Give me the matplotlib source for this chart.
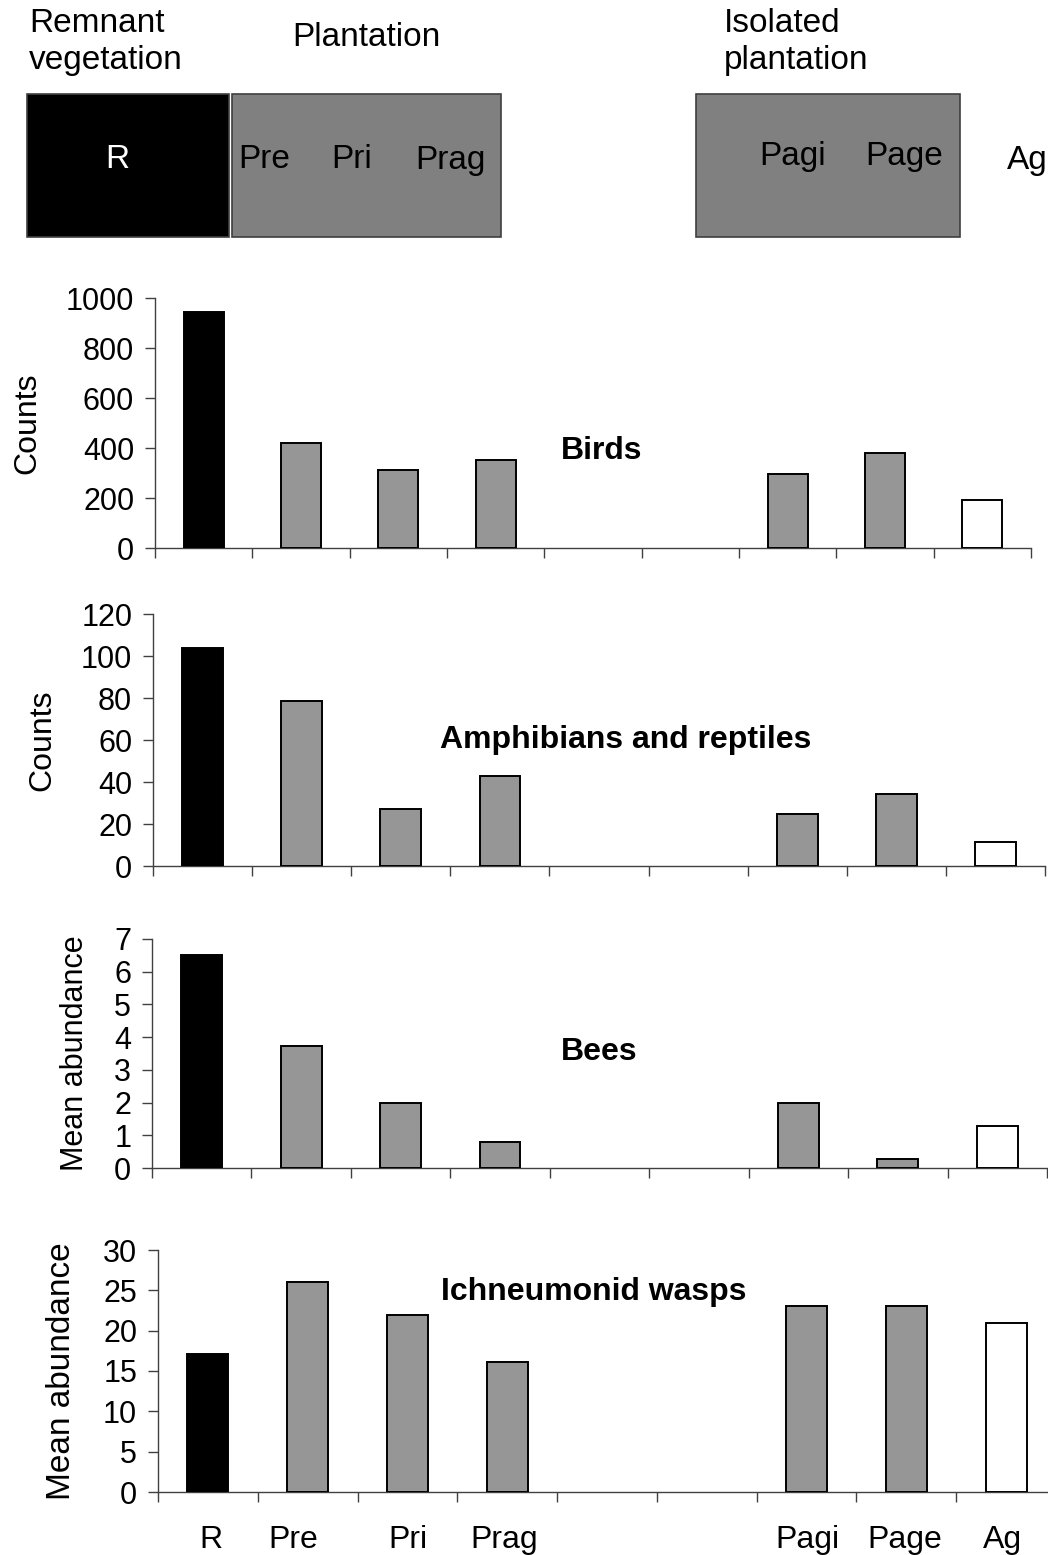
import matplotlib
matplotlib.use("Agg")
import matplotlib.pyplot as plt
import numpy as np

plt.rcParams['font.family'] = ['Liberation Sans', 'DejaVu Sans']

# data
sites = ["R", "Pre", "Pri", "Prag", "", "", "Pagi", "Page", "Ag"]
groups = ["rem", "plant", "plant", "plant", None, None, "plant", "plant", "ag"]
birds = [944, 421, 311, 351, np.nan, np.nan, 296, 382, 191]
herps = [104, 78.5, 27, 43, np.nan, np.nan, 25, 34.5, 11.5]
bees = [6.5, 3.72, 2.0, 0.78, np.nan, np.nan, 2.0, 0.28, 1.28]
wasps = [17.1, 26.0, 22.0, 16.1, np.nan, np.nan, 23.0, 23.0, 21.0]

# small nudges of the bottom site labels (in category units), as in the original
label_shift = [0.03, -0.14, 0, -0.03, 0, 0, 0.01, -0.02, -0.04]

W, H = 1048, 1555
fig = plt.figure(figsize=(W / 100, H / 100), dpi=100)

fill = {"rem": "black", "plant": "#969696", "ag": "white", None: "white"}

def px_axes(l, t, r, b, **kw):
    # axes placed by pixel box (left, top, right, bottom) measured on the picture
    return fig.add_axes([l / W, 1 - b / H, (r - l) / W, (b - t) / H], **kw)

# ---- header with the habitat boxes ----
hd = px_axes(0, 0, W, 250)
hd.set_xlim(0, W)
hd.set_ylim(250, 0)
hd.axis("off")
hd.add_patch(plt.Rectangle((27, 94), 202, 143, fc="black", ec="#404040", lw=1.2))
hd.add_patch(plt.Rectangle((232, 94), 269, 143, fc="#808080", ec="#404040", lw=1.2))
hd.add_patch(plt.Rectangle((696, 94), 264, 143, fc="#808080", ec="#404040", lw=1.2))
hfs = 24
hd.text(29, 23, "Remnant", fontsize=hfs, va="center", ha="left")
hd.text(29, 61, "vegetation", fontsize=hfs, va="center", ha="left")
hd.text(366, 37, "Plantation", fontsize=hfs, va="center", ha="center")
hd.text(724, 23, "Isolated", fontsize=hfs, va="center", ha="left")
hd.text(724, 61, "plantation", fontsize=hfs, va="center", ha="left")
hd.text(117, 160, "R", fontsize=hfs, va="center", ha="center", color="white")
for x, s in zip([264, 352, 450], ["Pre", "Pri", "Prag"]):
    hd.text(x, 160, s, fontsize=hfs, va="center", ha="center")
for x, s in zip([793, 904], ["Pagi", "Page"]):
    hd.text(x, 157, s, fontsize=hfs, va="center", ha="center")
hd.text(1027, 160, "Ag", fontsize=hfs, va="center", ha="center")

# ---- bar panels ----
panels = [
    # values, ymax, step, ylabel, label fs, title, title pos, pixel box, ylabel x
    (birds, 1000, 200, "Counts", 23, "Birds", (561, 451), (155, 298, 1031, 548), 27),
    (herps, 120, 20, "Counts", 23, "Amphibians and reptiles", (440, 740), (153, 614, 1045, 866), 42),
    (bees, 7, 1, "Mean abundance", 22, "Bees", (561, 1052), (152, 939, 1047, 1168), 75),
    (wasps, 30, 5, "Mean abundance", 24, "Ichneumonid wasps", (441, 1292), (158, 1250, 1056, 1492), 62),
]

x = np.arange(len(sites))
for i, (vals, ymax, step, ylab, lfs, title, tpos, box, labx) in enumerate(panels):
    l, t, r, b = box
    ax = px_axes(l, t, r, b)
    ax.bar(x, vals, width=0.41, color=[fill[g] for g in groups],
           edgecolor="black", linewidth=1.4, zorder=3)
    ax.set_xlim(-0.5, len(sites) - 0.5)
    ax.set_ylim(0, ymax)
    ax.set_yticks(np.arange(0, ymax + step / 2, step))
    ax.set_xticks(np.arange(-0.5, len(sites)))
    ax.set_xticklabels([])
    for s in ["top", "right"]:
        ax.spines[s].set_visible(False)
    for s in ["left", "bottom"]:
        ax.spines[s].set_color("#404040")
        ax.spines[s].set_linewidth(1.0)
    ax.tick_params(axis="both", direction="out", length=7, width=1.0,
                   color="#404040", labelsize=22)
    ax.tick_params(axis="y", pad=8)
    ax.set_ylabel(ylab, fontsize=lfs)
    ax.yaxis.set_label_coords((labx - l) / (r - l), 0.5)
    ax.yaxis.label.set_va("center")
    ax.text((tpos[0] - l) / (r - l), (b - tpos[1]) / (b - t), title,
            transform=ax.transAxes, fontsize=23, fontweight="bold",
            ha="left", va="center")
    if i == len(panels) - 1:
        ax.set_xticks(x + np.array(label_shift), minor=True)
        ax.set_xticklabels(sites, minor=True)
        ax.tick_params(axis="x", which="minor", length=0, pad=24, labelsize=23)

fig.savefig("out.png", dpi=100)
